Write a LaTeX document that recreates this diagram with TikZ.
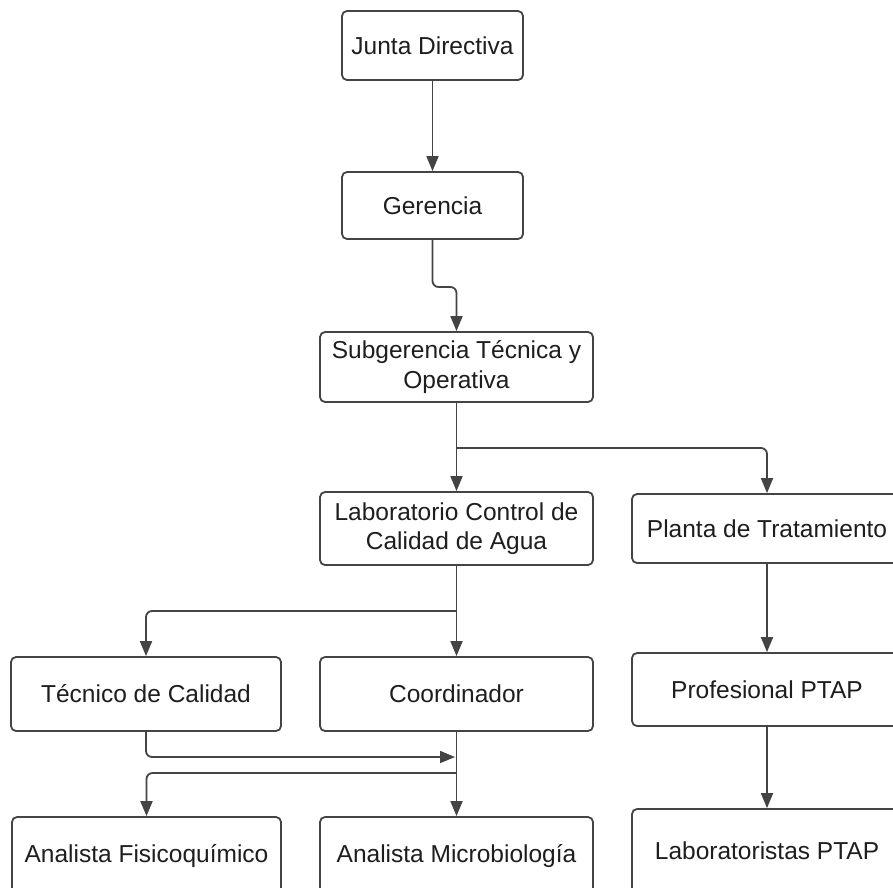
\documentclass[tikz,border=0pt]{standalone}
\usepackage{fontspec}
\setmainfont{Liberation Sans}
\usetikzlibrary{arrows.meta}
\definecolor{linecol}{HTML}{444444}
\definecolor{textcol}{HTML}{1E1E1E}
\begin{document}
\begin{tikzpicture}[x=1pt,y=-1pt,
  box/.style={draw=linecol, line width=1.8pt, rounded corners=5pt, rectangle, align=center,
    inner sep=0pt, text=textcol, font=\fontsize{24.5}{29.5}\selectfont},
  conn/.style={draw=linecol, line width=1.8pt, rounded corners=6pt,
    -{Triangle[length=15pt,width=12pt]}},
  plain/.style={draw=linecol, line width=1.8pt, rounded corners=6pt}]
\useasboundingbox (0,0) rectangle (893,887);
\fill[white] (0,0) rectangle (893,887);

\node[box, minimum width=181pt, minimum height=69pt] (junta) at (432.5,45.5) {Junta Directiva};
\node[box, minimum width=181pt, minimum height=67pt] (ger) at (432.5,205.5) {Gerencia};
\node[box, minimum width=273pt, minimum height=70pt] (sub) at (456.5,367) {Subgerencia Técnica y\\Operativa};
\node[box, minimum width=273pt, minimum height=73pt] (lab) at (456.5,528.5) {Laboratorio Control de\\Calidad de Agua};
\node[box, minimum width=270pt, minimum height=69pt] (planta) at (767,528.5) {Planta de Tratamiento};
\node[box, minimum width=270pt, minimum height=73pt] (prof) at (767,689.5) {Profesional PTAP};
\node[box, minimum width=270pt, minimum height=84pt] (labor) at (767,851) {Laboratoristas PTAP};
\node[box, minimum width=270pt, minimum height=74pt] (tec) at (146,694) {Técnico de Calidad};
\node[box, minimum width=273pt, minimum height=74pt] (coord) at (456.5,694) {Coordinador};
\node[box, minimum width=269pt, minimum height=78pt] (fisi) at (146.5,856) {Analista Fisicoquímico};
\node[box, minimum width=273pt, minimum height=78pt] (micro) at (456.5,856) {Analista Microbiología};

\coordinate (g1) at (456.5,287);
\coordinate (s1) at (456.5,448);
\coordinate (l1) at (456.5,611);
\coordinate (t1) at (455,757);
\coordinate (c3) at (456.5,773);

\draw[conn] (junta.south) -- (ger.north);
\draw[conn] (ger.south) |- (g1) -- (sub.north);
\draw[conn] (sub.south) -- (lab.north);
\draw[conn] (s1) -| (planta.north);
\draw[conn] (lab.south) -- (coord.north);
\draw[conn] (l1) -| (tec.north);
\draw[conn] (tec.south) |- (t1);
\draw[conn] (coord.south) -- (micro.north);
\draw[conn] (c3) -| (fisi.north);
\draw[conn] (planta.south) -- (prof.north);
\draw[conn] (prof.south) -- (labor.north);
\end{tikzpicture}
\end{document}
